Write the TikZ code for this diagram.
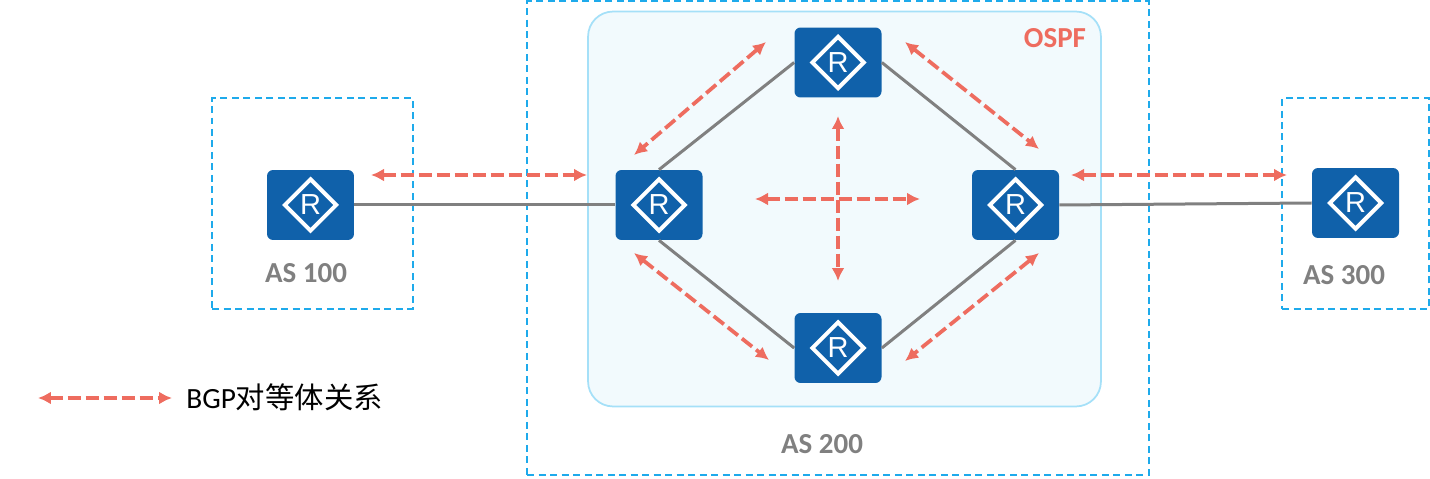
\documentclass[tikz,border=0pt]{standalone}
\usepackage{fontspec}
\setmainfont{Carlito}
\setsansfont{Liberation Sans}
\newfontfamily\cjkfont{Noto Sans CJK SC}
\usepackage{xcolor}
\definecolor{routerblue}{RGB}{16,97,170}
\definecolor{peerred}{RGB}{238,108,95}
\definecolor{boxblue}{RGB}{30,170,235}
\definecolor{ospfline}{RGB}{165,224,248}
\definecolor{ospffill}{RGB}{242,250,253}
\definecolor{linkgray}{RGB}{128,128,128}
\usetikzlibrary{shapes.geometric, arrows.meta, positioning}

\begin{document}
\begin{tikzpicture}[
  x=0.02cm, y=-0.02cm,
  router/.style={rectangle, fill=routerblue, rounded corners=0.12cm, minimum width=1.74cm, minimum height=1.4cm, inner sep=0pt},
  routermark/.style={diamond, draw=white, line width=0.08cm, minimum width=1.06cm, minimum height=1.06cm, inner sep=0pt, text=white, font=\fontsize{16.5}{17}\sffamily},
  asbox/.style={draw=boxblue, dashed, line width=0.035cm, dash pattern=on 0.14cm off 0.09cm},
  aslabel/.style={font=\fontsize{16.5}{17}\selectfont\bfseries, text=linkgray},
  link/.style={draw=linkgray, line width=0.06cm},
  peer/.style={{Latex[length=0.26cm,width=0.26cm]}-{Latex[length=0.26cm,width=0.26cm]}, draw=peerred, line width=0.075cm, dash pattern=on 0.26cm off 0.1cm}
]
\useasboundingbox (0,0) rectangle (1430,479);

% --- AS frames ---
\node[asbox, minimum width=4.02cm, minimum height=4.22cm] (as100box) at (312.5,203.5) {};
\node[asbox, minimum width=12.44cm, minimum height=9.48cm] (as200box) at (838,238) {};
\node[asbox, minimum width=2.94cm, minimum height=4.22cm] (as300box) at (1355.5,203.5) {};
\node[draw=ospfline, fill=ospffill, line width=0.035cm, rounded corners=0.5cm, minimum width=10.26cm, minimum height=7.9cm] (ospfarea) at (844.5,209) {};

% --- Router ---
\node[router] (r100) at (310.5,205) {};
\node[router] (rleft) at (659,205) {};
\node[router] (rtop) at (838,62.5) {};
\node[router] (rbottom) at (838,348) {};
\node[router] (rright) at (1015.5,205) {};
\node[router] (r300) at (1355.5,203) {};

\node[routermark] (m100) at (r100) {R};
\node[routermark] (mleft) at (rleft) {R};
\node[routermark] (mtop) at (rtop) {R};
\node[routermark] (mbottom) at (rbottom) {R};
\node[routermark] (mright) at (rright) {R};
\node[routermark] (m300) at (r300) {R};

% --- Labels ---
\node[aslabel] (l100) at (306,273) {AS 100};
\node[aslabel] (l200) at (822,444) {AS 200};
\node[aslabel] (l300) at (1344,275) {AS 300};
\node[font=\fontsize{16.5}{17}\selectfont\bfseries, text=peerred] (lospf) at (1055,38) {OSPF};
\node[anchor=west, inner sep=0pt, font=\fontsize{16.7}{17}\selectfont] (legendtext) at (186,397) {BGP{\cjkfont 对等体关系}};

% Verbindungen
\draw[link] (r100.east) -- (rleft.west);
\draw[link] (rleft.north) -- (rtop.west);
\draw[link] (rtop.east) -- (rright.north);
\draw[link] (rleft.south) -- (rbottom.west);
\draw[link] (rbottom.east) -- (rright.south);
\draw[link] (rright.east) -- (r300.west);

% Endpunkte der Peer-Pfeile
\coordinate (p1a) at (371,175);   \coordinate (p1b) at (587,175);
\coordinate (p2a) at (1071,175);  \coordinate (p2b) at (1287,175);
\coordinate (p3a) at (755,199);   \coordinate (p3b) at (920,199);
\coordinate (p4a) at (838,116);   \coordinate (p4b) at (838,281);
\coordinate (p5a) at (766,42);    \coordinate (p5b) at (634,155);
\coordinate (p6a) at (905,42);    \coordinate (p6b) at (1039,149);
\coordinate (p7a) at (634,253);   \coordinate (p7b) at (769,360);
\coordinate (p8a) at (1039,253);  \coordinate (p8b) at (905,361);
\coordinate (p9a) at (38,398);    \coordinate (p9b) at (172,398);

\foreach \a/\b in {p1a/p1b, p2a/p2b, p3a/p3b, p4a/p4b, p5a/p5b, p6a/p6b, p7a/p7b, p8a/p8b, p9a/p9b}
  \draw[peer] (\a) -- (\b);
\end{tikzpicture}
\end{document}
